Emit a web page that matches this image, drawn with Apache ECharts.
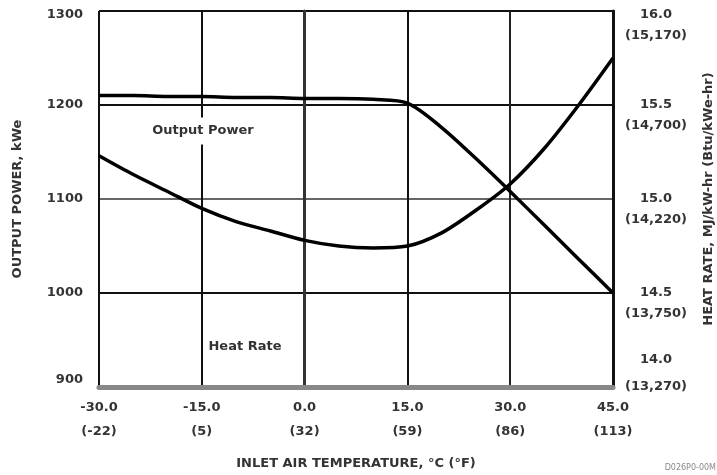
<!DOCTYPE html>
<html>
<head>
<meta charset="utf-8">
<script src="https://cdn.jsdelivr.net/npm/echarts@6/dist/echarts.min.js"></script>
<style>
html,body{margin:0;padding:0;background:#fff;}
#c{width:717px;height:475px;}
</style>
</head>
<body>
<div id="c"></div>
<script>
// ---- data ----
var temps = [-30, -25, -20, -15, -10, -5, 0, 5, 10, 15, 20, 25, 30, 35, 40, 45];
var outputPower = [1210, 1210, 1209, 1209, 1208, 1208, 1207, 1207, 1206, 1202, 1176, 1143, 1108, 1072, 1036, 1000];
var heatRate = [15.23, 15.13, 15.04, 14.95, 14.88, 14.83, 14.78, 14.75, 14.74, 14.75, 14.82, 14.94, 15.08, 15.27, 15.50, 15.75];
var xTickC = ['-30.0', '-15.0', '0.0', '15.0', '30.0', '45.0'];
var xTickF = ['(-22)', '(5)', '(32)', '(59)', '(86)', '(113)'];
var leftTicks = ['900', '1000', '1100', '1200', '1300'];
var rightTickMJ = ['14.0', '14.5', '15.0', '15.5', '16.0'];
var rightTickBtu = ['(13,270)', '(13,750)', '(14,220)', '(14,700)', '(15,170)'];

var FF = 'DejaVu Sans';
var TC = '#333';
function ts(extra) {
  var o = {fontFamily: FF, fontWeight: 'bold', fontSize: 13, color: TC};
  for (var k in extra) o[k] = extra[k];
  return o;
}

var chart = echarts.init(document.getElementById('c'), null, {renderer: 'canvas'});
var option = {
  animation: false,
  backgroundColor: '#fff',
  grid: {left: 99, right: 104, top: 11, bottom: 88, containLabel: false, outerBoundsMode: 'none'},
  xAxis: {
    type: 'value', min: -30, max: 45, interval: 15,
    name: 'INLET AIR TEMPERATURE, \u00B0C (\u00B0F)',
    nameLocation: 'middle', nameGap: 70,
    nameTextStyle: ts({}),
    axisLine: {show: true, onZero: false, lineStyle: {color: '#888', width: 5}},
    axisTick: {show: false},
    axisLabel: {
      margin: 9, lineHeight: 24, fontFamily: FF, fontWeight: 'bold', fontSize: 13, color: TC,
      formatter: function (v) {
        var i = Math.round((v + 30) / 15);
        return xTickC[i] + '\n' + xTickF[i];
      }
    },
    splitLine: {show: true, lineStyle: {color: ['#111', '#111', '#777', '#111', '#222', '#111'], width: 2}}
  },
  yAxis: [{
    type: 'value', min: 900, max: 1300, interval: 100, position: 'left',
    name: 'OUTPUT POWER, kWe', nameLocation: 'middle', nameGap: 75, nameRotate: 90,
    nameTextStyle: ts({}),
    axisLine: {show: true, lineStyle: {color: '#333', width: 3}},
    axisTick: {show: false},
    axisLabel: {
      margin: 16, fontFamily: FF, fontWeight: 'bold', fontSize: 13, color: TC,
      formatter: function (v) {
        var i = Math.round((v - 900) / 100);
        if (i === 4) return '{t|' + leftTicks[i] + '}';
        if (i === 0) return '{b|' + leftTicks[i] + '}';
        return '{n|' + leftTicks[i] + '}';
      },
      rich: {
        t: ts({padding: [8, 0, 0, 0]}),
        b: ts({padding: [0, 0, 14, 0]}),
        n: ts({})
      }
    },
    splitLine: {show: true, lineStyle: {color: ['#111', '#111', '#666', '#111', '#111'], width: 2}}
  }, {
    type: 'value', min: 14, max: 16, interval: 0.5, position: 'right',
    name: 'HEAT RATE, MJ/kW-hr (Btu/kWe-hr)', nameLocation: 'middle', nameGap: 89, nameRotate: 90,
    nameTextStyle: ts({}),
    axisLine: {show: true, lineStyle: {color: '#111', width: 3}},
    axisTick: {show: false},
    splitLine: {show: false},
    axisLabel: {
      margin: 43, align: 'center', fontFamily: FF, fontWeight: 'bold', fontSize: 13, color: TC,
      formatter: function (v) {
        var i = Math.round((v - 14) / 0.5);
        if (i === 0) return '{a0|' + rightTickMJ[i] + '}\n{a|' + rightTickBtu[i] + '}\n{s0| }';
        if (i === 4) return '{s4| }\n{a|' + rightTickMJ[i] + '}\n{a|' + rightTickBtu[i] + '}';
        return '{s| }\n{a|' + rightTickMJ[i] + '}\n{a|' + rightTickBtu[i] + '}';
      },
      rich: {
        a: ts({lineHeight: 21, align: 'center'}),
        a0: ts({lineHeight: 33, align: 'center'}),
        s: ts({lineHeight: 21}),
        s0: ts({lineHeight: 33}),
        s4: ts({lineHeight: 29})
      }
    }
  }],
  series: [{
    name: 'Output Power', type: 'line', yAxisIndex: 0,
    data: temps.map(function (t, i) { return [t, outputPower[i]]; }),
    smooth: 0.3, showSymbol: false, symbol: 'none',
    lineStyle: {color: '#000', width: 3.5}, z: 5
  }, {
    name: 'Heat Rate', type: 'line', yAxisIndex: 1,
    data: temps.map(function (t, i) { return [t, heatRate[i]]; }),
    smooth: 0.3, showSymbol: false, symbol: 'none',
    lineStyle: {color: '#000', width: 3.5}, z: 5
  }],
  graphic: [{
    type: 'text', x: 203, y: 131, z: 100,
    style: {text: 'Output Power', font: 'bold 13px "DejaVu Sans"', fill: TC,
      align: 'center', verticalAlign: 'middle', backgroundColor: '#fff', padding: [7, 2]}
  }, {
    type: 'text', x: 245, y: 347, z: 100,
    style: {text: 'Heat Rate', font: 'bold 13px "DejaVu Sans"', fill: TC,
      align: 'center', verticalAlign: 'middle'}
  }, {
    type: 'text', x: 716, y: 468, z: 100,
    style: {text: 'D026P0-00M', font: '8px "DejaVu Sans"', fill: '#888',
      align: 'right', verticalAlign: 'middle'}
  }]
};
chart.setOption(option);
</script>
</body>
</html>
